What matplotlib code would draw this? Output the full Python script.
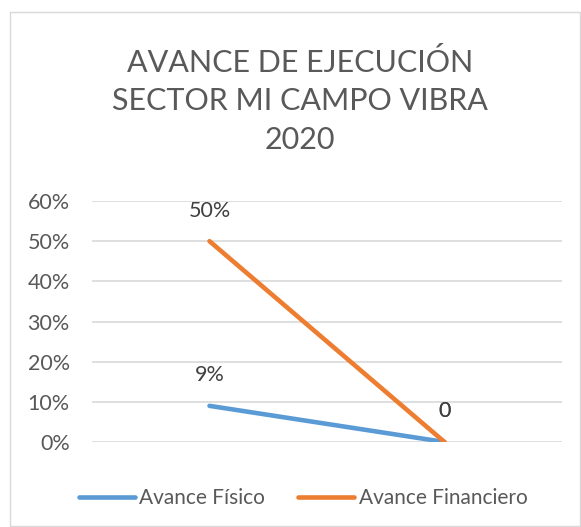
import matplotlib.pyplot as plt
from matplotlib.patches import Rectangle
from matplotlib.ticker import PercentFormatter

plt.rcParams['font.family'] = ['Lato', 'DejaVu Sans']

categories = ['Inicio', 'Fin']
fisico = [0.09, 0.0]
financiero = [0.50, 0.0]
fisico_labels = ['9%', '0']
financiero_labels = ['50%', '0']
title = 'AVANCE DE EJECUCIÓN\nSECTOR MI CAMPO VIBRA\n2020'

fig = plt.figure(figsize=(5.81, 5.27), dpi=100)
fig.patches.append(Rectangle((10 / 581, 1 / 527), 570 / 581, 514 / 527,
                             transform=fig.transFigure, fill=False,
                             edgecolor='#d9d9d9', linewidth=1.0))

ax = fig.add_axes([92 / 581, 85 / 527, 470 / 581, 241 / 527])
x = range(len(categories))
ax.plot(x, fisico, color='#5B9BD5', linewidth=3.3, solid_capstyle='round',
        label='Avance Físico', zorder=3)
ax.plot(x, financiero, color='#ED7D31', linewidth=3.3, solid_capstyle='round',
        label='Avance Financiero', zorder=4)

for xi, v, s in zip(x, fisico, fisico_labels):
    ax.annotate(s, (xi, v), xytext=(0, 22), textcoords='offset points',
                ha='center', va='center', fontsize=15.5, color='#404040')
for xi, v, s in zip(x, financiero, financiero_labels):
    ax.annotate(s, (xi, v), xytext=(0, 22), textcoords='offset points',
                ha='center', va='center', fontsize=15.5, color='#404040')

ax.set_xlim(-0.5, 1.5)
ax.set_ylim(0, 0.6)
ax.set_yticks([0, 0.1, 0.2, 0.3, 0.4, 0.5, 0.6])
ax.yaxis.set_major_formatter(PercentFormatter(1.0, decimals=0))
ax.set_xticks([])
ax.tick_params(axis='y', length=0, labelsize=15.5, labelcolor='#595959', pad=16)
ax.grid(axis='y', color='#d9d9d9', linewidth=1.2)
ax.set_axisbelow(True)
for sp in ax.spines.values():
    sp.set_visible(False)

fig.text(300 / 581, 1 - 101 / 527, title, ha='center', va='center',
         fontsize=22, color='#595959', linespacing=1.45)

fig.legend(loc='center', bbox_to_anchor=(303 / 581, 1 - 498 / 527), ncol=2,
           frameon=False, fontsize=15, labelcolor='#595959',
           handlelength=2.7, handletextpad=0.2, columnspacing=1.6)

fig.savefig('out.png', dpi=100)
